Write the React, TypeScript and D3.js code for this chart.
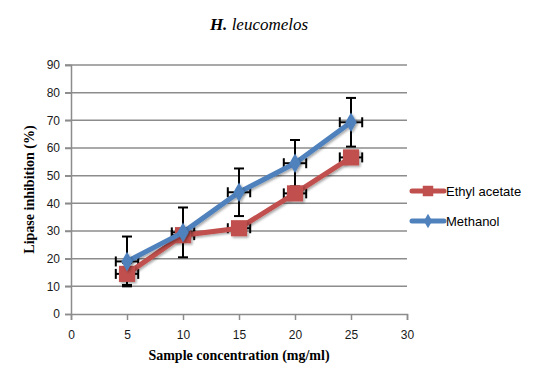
import { useRef, useEffect } from "react";
import * as d3 from "d3";

const concentrations = [5, 10, 15, 20, 25];
const ethylAcetate = [14.5, 28.5, 31, 43.6, 56.6];
const ethylErr = [4, 2, 2, 2, 1.5];
const methanol = [19, 29.5, 44, 54.5, 69.3];
const methanolErr = [9, 9, 8.6, 8.4, 8.8];
const xErr = 1;
const xTicks = [0, 5, 10, 15, 20, 25, 30];
const yTicks = [0, 10, 20, 30, 40, 50, 60, 70, 80, 90];

const App = () => {
  const svgRef = useRef<SVGSVGElement>(null);

  useEffect(() => {
    const w = 544;
    const h = 374;
    const svg = d3.select(svgRef.current).attr("width", w).attr("height", h);
    svg.selectAll("*").remove();

    const x = d3.scaleLinear().domain([0, 30]).range([71, 407]);
    const y = d3.scaleLinear().domain([0, 90]).range([314, 65]);

    const defs = svg.append("defs");
    const f = defs.append("filter").attr("id", "shadow").attr("x", "-50%").attr("y", "-50%").attr("width", "200%").attr("height", "200%");
    f.append("feDropShadow").attr("dx", 1.5).attr("dy", 1.5).attr("stdDeviation", 1).attr("flood-color", "#000").attr("flood-opacity", 0.35);

    // gridlines
    svg
      .append("g")
      .selectAll("line")
      .data(yTicks.slice(1))
      .join("line")
      .attr("x1", x(0) - 6)
      .attr("x2", x(30))
      .attr("y1", (d) => y(d))
      .attr("y2", (d) => y(d))
      .attr("stroke", "#8c8c8c")
      .attr("stroke-width", 1.5);

    // axes
    const yAxis = d3.axisLeft(y).tickValues(yTicks).tickSize(6).tickPadding(5);
    const gy = svg.append("g").attr("transform", `translate(${x(0)},0)`).call(yAxis);
    const xAxis = d3.axisBottom(x).tickValues(xTicks).tickSize(6).tickPadding(8);
    const gx = svg.append("g").attr("transform", `translate(0,${y(0)})`).call(xAxis);
    [gx, gy].forEach((g) => {
      g.select(".domain").attr("stroke", "#8c8c8c").attr("stroke-width", 1.5);
      g.selectAll(".tick line").attr("stroke", "#8c8c8c").attr("stroke-width", 1.5);
      g.selectAll(".tick text")
        .attr("fill", "#1a1a1a")
        .style("font-family", "'Liberation Sans', Arial, sans-serif")
        .style("font-size", "12px");
    });
    gx.selectAll(".tick text").attr("dy", "0.9em");

    const series = [
      { name: "Ethyl acetate", vals: ethylAcetate, err: ethylErr, color: "#C0504D", marker: "square" },
      { name: "Methanol", vals: methanol, err: methanolErr, color: "#4F81BD", marker: "diamond" },
    ];

    // error bars (behind the lines and markers)
    series.forEach((s) => {
      const g = svg.append("g").attr("stroke", "#000").attr("stroke-width", 2);
      s.vals.forEach((v, i) => {
        const cx = x(concentrations[i]);
        const top = y(v + s.err[i]);
        const bot = y(v - s.err[i]);
        g.append("line").attr("x1", cx).attr("x2", cx).attr("y1", top).attr("y2", bot);
        g.append("line").attr("x1", cx - 5).attr("x2", cx + 5).attr("y1", top).attr("y2", top);
        g.append("line").attr("x1", cx - 5).attr("x2", cx + 5).attr("y1", bot).attr("y2", bot);
        const l = x(concentrations[i] - xErr);
        const r = x(concentrations[i] + xErr);
        const cy = y(v);
        g.append("line").attr("x1", l).attr("x2", r).attr("y1", cy).attr("y2", cy);
        g.append("line").attr("x1", l).attr("x2", l).attr("y1", cy - 5).attr("y2", cy + 5);
        g.append("line").attr("x1", r).attr("x2", r).attr("y1", cy - 5).attr("y2", cy + 5);
      });
    });

    const line = d3
      .line<number>()
      .x((d, i) => x(concentrations[i]))
      .y((d) => y(d));

    series.forEach((s) => {
      const g = svg.append("g");
      g.append("path")
        .attr("d", line(s.vals))
        .attr("fill", "none")
        .attr("stroke", s.color)
        .attr("stroke-width", 5)
        .attr("stroke-linejoin", "round")
        .attr("filter", "url(#shadow)");
      const sym = d3
        .symbol()
        .type(s.marker === "square" ? d3.symbolSquare : d3.symbolDiamond)
        .size(s.marker === "square" ? 260 : 110);
      g.selectAll("path.pt")
        .data(s.vals)
        .join("path")
        .attr("class", "pt")
        .attr("d", sym)
        .attr("transform", (d, i) => `translate(${x(concentrations[i])},${y(d)})`)
        .attr("fill", s.color)
        .attr("filter", "url(#shadow)");
    });

    // legend
    series.forEach((s, i) => {
      const ly = 191 + i * 30;
      const g = svg.append("g");
      g.append("line")
        .attr("x1", 412)
        .attr("x2", 444)
        .attr("y1", ly)
        .attr("y2", ly)
        .attr("stroke", s.color)
        .attr("stroke-width", 5)
        .attr("stroke-linecap", "round");
      g.append("path")
        .attr("d", d3.symbol().type(s.marker === "square" ? d3.symbolSquare : d3.symbolDiamond).size(s.marker === "square" ? 110 : 60)())
        .attr("transform", `translate(428,${ly})`)
        .attr("fill", s.color);
      g.append("text")
        .attr("x", 446)
        .attr("y", ly + 4.5)
        .style("font-family", "'Liberation Sans', Arial, sans-serif")
        .style("font-size", "13px")
        .attr("fill", "#000")
        .text(s.name);
    });

    // title
    const t = svg
      .append("text")
      .attr("x", 259)
      .attr("y", 30)
      .attr("text-anchor", "middle")
      .style("font-family", "'Liberation Serif', 'Times New Roman', serif")
      .style("font-style", "italic")
      .style("font-size", "17px")
      .attr("fill", "#000");
    t.append("tspan").style("font-weight", "bold").text("H.");
    t.append("tspan").text(" leucomelos");

    svg
      .append("text")
      .attr("x", 239)
      .attr("y", 360)
      .attr("text-anchor", "middle")
      .style("font-family", "'Liberation Serif', 'Times New Roman', serif")
      .style("font-weight", "bold")
      .style("font-size", "14px")
      .text("Sample concentration (mg/ml)");

    svg
      .append("text")
      .attr("transform", `translate(34,${(y(0) + y(90)) / 2}) rotate(-90)`)
      .attr("text-anchor", "middle")
      .style("font-family", "'Liberation Serif', 'Times New Roman', serif")
      .style("font-weight", "bold")
      .style("font-size", "14px")
      .text("Lipase inhibition (%)");
  }, []);

  return (
    <div style={{ position: "absolute", left: 0, top: 0 }}>
      <svg ref={svgRef}></svg>
    </div>
  );
};

export default App;
